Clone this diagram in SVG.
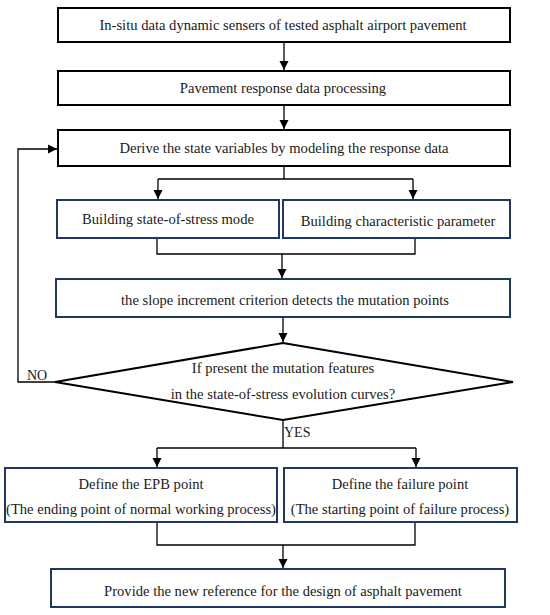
<svg xmlns="http://www.w3.org/2000/svg" width="550" height="615" viewBox="0 0 550 615">
<style>
.bk{fill:#fff;stroke:#000;stroke-width:2}
.nv{fill:#fff;stroke:#1f3763;stroke-width:2}
.t{font-family:"Liberation Serif","Times New Roman",serif;font-size:14.6px;fill:#1a1a1a;text-anchor:middle;dominant-baseline:central}
.l{font-family:"Liberation Serif","Times New Roman",serif;font-size:14px;fill:#1a1a1a}
.c{fill:none;stroke:#000;stroke-width:1.3}
</style>
<defs>
<marker id="ah" markerWidth="10" markerHeight="10" refX="9" refY="5" orient="auto" markerUnits="userSpaceOnUse">
<path d="M0,0.5 L9,5 L0,9.5 Z" fill="#000"/>
</marker>
</defs>
<g id="connectors">
<path class="c" d="M284,42 V70" marker-end="url(#ah)"/>
<path class="c" d="M284,105 V129" marker-end="url(#ah)"/>
<path class="c" d="M284,166 V179 M158,179 H413"/>
<path class="c" d="M158,179 V199" marker-end="url(#ah)"/>
<path class="c" d="M413,179 V199" marker-end="url(#ah)"/>
<path class="c" d="M157,238 V254 H415 V238"/>
<path class="c" d="M282,254 V278" marker-end="url(#ah)"/>
<path class="c" d="M283,317 V342" marker-end="url(#ah)"/>
<path class="c" d="M55,382 H18 V149 H57" marker-end="url(#ah)"/>
<path class="c" d="M283,420 V448 M157,448 H416"/>
<path class="c" d="M157,448 V467" marker-end="url(#ah)"/>
<path class="c" d="M416,448 V467" marker-end="url(#ah)"/>
<path class="c" d="M157,522 V545 H415 V522"/>
<path class="c" d="M283,545 V568" marker-end="url(#ah)"/>
<text class="l" x="27" y="380">NO</text>
<text class="l" x="284" y="437">YES</text>
</g>
<g id="n1">
<rect class="bk" x="58" y="8" width="452" height="34"/>
<text class="t" x="283" y="25">In-situ data dynamic sensers of tested asphalt airport pavement</text>
</g>
<g id="n2">
<rect class="bk" x="58" y="71" width="452" height="34"/>
<text class="t" x="283" y="88">Pavement response data processing</text>
</g>
<g id="n3">
<rect class="bk" x="58" y="130" width="452" height="36"/>
<text class="t" x="284" y="148">Derive the state variables by modeling the response data</text>
</g>
<g id="n4a">
<rect class="nv" x="57" y="200" width="222" height="38"/>
<text class="t" x="168" y="219">Building state-of-stress mode</text>
</g>
<g id="n4b">
<rect class="nv" x="283" y="200" width="227" height="38"/>
<text class="t" x="398" y="221">Building characteristic parameter</text>
</g>
<g id="n5">
<rect class="nv" x="56" y="279" width="454" height="38"/>
<text class="t" x="285" y="300">the slope increment criterion detects the mutation points</text>
</g>
<g id="n6">
<polygon points="283,343 513,382 283,420 55,382" fill="#fff" stroke="#000" stroke-width="2"/>
<text class="t" x="283" y="368">If present the mutation features</text>
<text class="t" x="283" y="394">in the state-of-stress evolution curves?</text>
</g>
<g id="n7a">
<rect class="nv" x="5" y="468" width="272" height="54"/>
<text class="t" x="141" y="484">Define the EPB point</text>
<text class="t" x="141" y="509">(The ending point of normal working process)</text>
</g>
<g id="n7b">
<rect class="nv" x="284" y="468" width="233" height="54"/>
<text class="t" x="400" y="484">Define the failure point</text>
<text class="t" x="400" y="509">(The starting point of failure process)</text>
</g>
<g id="n8">
<rect class="nv" x="51" y="569" width="454" height="38"/>
<text class="t" x="283" y="591">Provide the new reference for the design of asphalt pavement</text>
</g>
</svg>
